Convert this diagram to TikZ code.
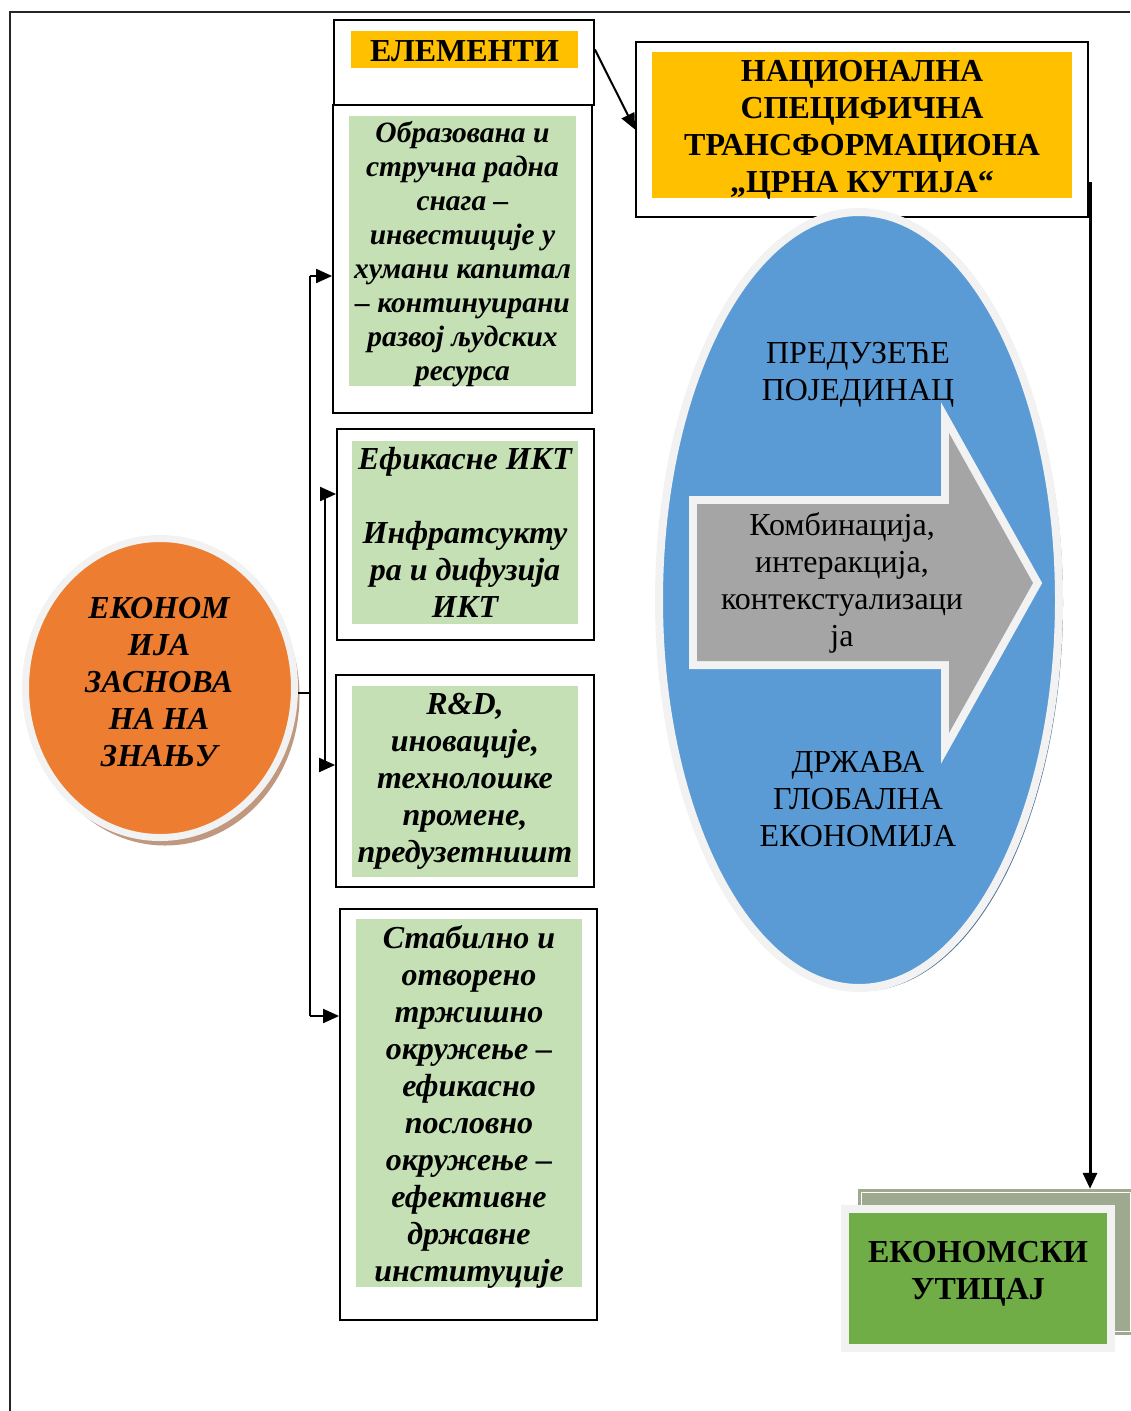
\documentclass[tikz,border=0pt]{standalone}
\usepackage{fontspec}
\setmainfont{Liberation Serif}
\usepackage{tikz}
\usetikzlibrary{shapes,arrows.meta,calc,shadows}
\definecolor{hdrorange}{HTML}{FFC000}
\definecolor{elgreen}{HTML}{C5E0B4}
\definecolor{knorange}{HTML}{ED7D31}
\definecolor{ellblue}{HTML}{5B9BD5}
\definecolor{arrgray}{HTML}{A5A5A5}
\definecolor{ringgray}{HTML}{F2F2F2}
\definecolor{impgreen}{HTML}{70AD47}
\definecolor{sagegreen}{RGB}{158,169,143}
\definecolor{shadowtan}{RGB}{192,152,128}
\definecolor{shadowblue}{RGB}{84,116,150}
\newcommand{\elfont}{\fontsize{32}{37}\selectfont\bfseries\itshape}
\newcommand{\elfontA}{\fontsize{29.5}{34}\selectfont\bfseries\itshape}
\newcommand{\hdrfont}{\fontsize{32}{37}\selectfont\bfseries}
\newcommand{\plainfont}{\fontsize{32}{37}\selectfont}
\tikzset{outerbox/.style={draw,line width=1.8pt,fill=white,inner sep=0pt},elembox/.style={fill=elgreen,inner sep=0pt,align=center,font=\elfont},hdrbox/.style={fill=hdrorange,inner sep=0pt,align=center,font=\hdrfont},plain/.style={inner sep=0pt,align=center,font=\plainfont}}
\tikzset{conn/.style={line width=2pt},arr/.style={conn,-{Triangle[length=16pt,width=14pt]}},fatarr/.style={arr,line width=3pt}}

\begin{document}
\begin{tikzpicture}[x=1pt,y=-1pt]
  \useasboundingbox (0,0) rectangle (1130,1411);
  \draw[line width=2pt,black!85] (10,1411) -- (10,12) -- (1130,12);
  \node[outerbox,minimum width=260pt,minimum height=85pt] (elem) at (464,62.5) {};
  \node[hdrbox,minimum width=227pt,minimum height=37pt] (elemlbl) at (464.5,49.5) {};
  \node[inner sep=0pt,font=\hdrfont] (elemtxt) at (464.5,51.5) {ЕЛЕМЕНТИ};
  \node[outerbox,minimum width=259pt,minimum height=308pt] (boxA) at (462.5,259) {};
  \node[elembox,minimum width=227pt,minimum height=270pt] (fillA) at (462.5,251) {};
  \node[inner sep=0pt,align=center,font=\elfontA] (txtA) at (462.5,254) {Образована и\\стручна радна\\снага –\\инвестиције у\\хумани капитал\\– континуирани\\развој људских\\ресурса};
  \node[outerbox,minimum width=257pt,minimum height=211pt] (boxB) at (465.5,534.5) {};
  \node[elembox,minimum width=226pt,minimum height=183pt] (fillB) at (465,532.5) {Ефикасне ИКТ\\[37pt]Инфратсукту\\ра и дифузија\\ИКТ};
  \node[outerbox,minimum width=258pt,minimum height=212pt] (boxC) at (465,781) {};
  \node[elembox,minimum width=226pt,minimum height=191pt] (fillC) at (465,781.5) {R\&D,\\иновације,\\технолошке\\промене,\\предузетништ};
  \node[outerbox,minimum width=257pt,minimum height=411pt] (boxD) at (468.5,1114.5) {};
  \node[elembox,minimum width=226pt,minimum height=368pt] (fillD) at (469,1103) {};
  \node[inner sep=0pt,align=center,font=\elfont] (txtD) at (469,1107) {Стабилно и\\отворено\\тржишно\\окружење –\\ефикасно\\пословно\\окружење –\\ефективне\\државне\\институције};
  \node[outerbox,minimum width=452pt,minimum height=175pt] (head) at (862,129.5) {};
  \node[hdrbox,minimum width=420pt,minimum height=146pt] (headlbl) at (862,125) {};
  \node[inner sep=0pt,align=center,font=\hdrfont] (headtxt) at (862,130) {НАЦИОНАЛНА\\СПЕЦИФИЧНА\\ТРАНСФОРМАЦИОНА\\„ЦРНА КУТИЈА“};
  \node[ellipse,minimum width=269pt,minimum height=299pt,inner sep=0pt,fill=knorange,draw=ringgray,line width=7pt,drop shadow={shadow xshift=5pt,shadow yshift=-8pt,fill=shadowtan,opacity=1}] (econ) at (160,688) {};
  \node[inner sep=0pt,align=center,font=\elfont] (econlbl) at (159,682.5) {ЕКОНОМ\\ИЈА\\ЗАСНОВА\\НА НА\\ЗНАЊУ};
  \node[ellipse,minimum width=400pt,minimum height=776pt,inner sep=0pt,fill=ellblue,draw=ringgray,line width=8pt,drop shadow={shadow xshift=4pt,shadow yshift=-3pt,fill=shadowblue,opacity=1}] (bigell) at (859,600) {};
  \fill[shadowblue,shift={(3,6)}] (697,504) -- (949,504) -- (949,433) -- (1033,583) -- (949,733) -- (949,661) -- (697,661) -- cycle;
  \filldraw[ringgray,line width=16pt,line join=miter] (697,504) -- (949,504) -- (949,433) -- (1033,583) -- (949,733) -- (949,661) -- (697,661) -- cycle;
  \fill[arrgray] (697,504) -- (949,504) -- (949,433) -- (1033,583) -- (949,733) -- (949,661) -- (697,661) -- cycle;
  \node[plain] (combo) at (842,583) {Комбинација,\\интеракција,\\контекстуализаци\\ја};
  \node[plain] (firm) at (858,374.5) {ПРЕДУЗЕЋЕ\\ПОЈЕДИНАЦ};
  \node[plain] (state) at (858,799) {ДРЖАВА\\ГЛОБАЛНА\\ЕКОНОМИЈА};
  \node[fill=sagegreen,minimum width=276pt,minimum height=146pt,inner sep=0pt] (impback) at (996,1262) {};
  \draw[white,line width=1pt] ([shift={(4,4)}]impback.north west) rectangle ([shift={(-4,-4)}]impback.south east);
  \node[fill=impgreen,draw=ringgray,line width=8pt,minimum width=266pt,minimum height=139pt,inner sep=0pt] (impact) at (978,1278) {};
  \node[inner sep=0pt,align=center,font=\hdrfont] (impactlbl) at (978,1274) {ЕКОНОМСКИ\\УТИЦАЈ};
  \coordinate (busTop) at (310,276);
  \coordinate (busMid) at (310,693);
  \coordinate (busBot) at (310,1016);
  \coordinate (innTop) at (325,490);
  \coordinate (innBot) at (325,765);
  \coordinate (hdrout) at (1090,182);
  \draw[conn] (econ.east |- busMid) -- (busMid);
  \draw[conn] (busTop) -- (busBot);
  \draw[conn] (innTop) -- (innBot);
  \draw[arr] (busTop) -- (boxA.west |- busTop);
  \draw[arr] (busBot) -- (boxD.west |- busBot);
  \draw[arr] (innTop |- 0,494) -- (boxB.west |- 0,494);
  \draw[arr] (innBot) -- (boxC.west |- innBot);
  \draw[arr] (elemlbl.east -| elem.east) -- (head.west);
  \draw[fatarr] (hdrout) -- (hdrout |- impback.north);
\end{tikzpicture}
\end{document}
